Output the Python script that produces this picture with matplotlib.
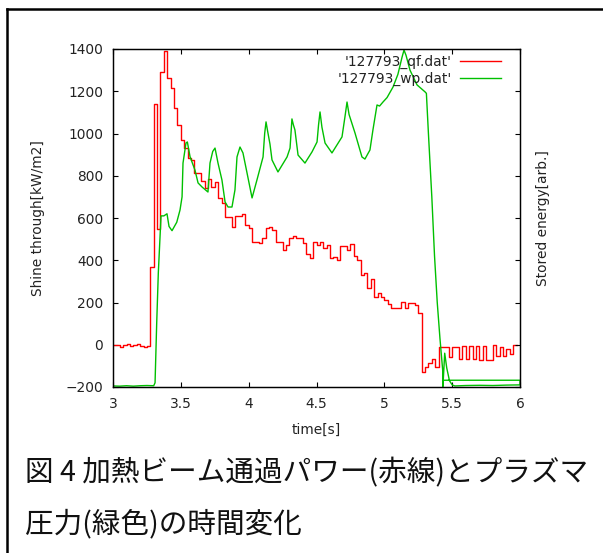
import matplotlib
matplotlib.use('Agg')
import matplotlib.pyplot as plt
import matplotlib.ticker as ticker
import numpy as np

# ---------------- data ----------------
# red: shine through, step data every 0.025 s from 3.0 s
qf_t0, qf_dt = 3.0, 0.025
qf_vals = [0, 0, -10, 0, 5, -5, 0, 5, -5, -10, -5,
           370, 1140, 550, 1290, 1390, 1265, 1215, 1120, 1040,
           970, 931, 884, 875, 813, 813, 775, 742, 785, 747,
           770, 695, 671, 605, 605, 557, 610, 610, 619, 567,
           553, 486, 486, 481, 505, 553, 557, 543, 486, 486,
           448, 472, 505, 515, 505, 505, 481, 429, 410, 486,
           470, 486, 460, 470, 410, 415, 400, 467, 467, 450,
           475, 420, 400, 330, 340, 268, 311, 226, 245, 226,
           210, 193, 174, 174, 174, 202, 174, 198, 198, 190,
           150, -130, -105, -86, -67, -105, -11, -11, -11, -58,
           -11, -11, -67, -8, -67, -5, -67, -5, -70, -5,
           -70, -70, -2, -55, -10, -52, -20, -45, 0]

# green: stored energy (trace as drawn, including the return segment)
wp_t = [3.00, 3.05, 3.10, 3.15, 3.20, 3.25, 3.30, 3.31, 3.322, 3.334,
        3.354, 3.375, 3.398, 3.413, 3.435, 3.47, 3.494, 3.509, 3.516, 3.538,
        3.548, 3.568, 3.604, 3.627, 3.656, 3.70, 3.715, 3.735, 3.752, 3.774,
        3.803, 3.826, 3.848, 3.877, 3.899, 3.914, 3.936, 3.958, 3.988, 4.025,
        4.061, 4.106, 4.118, 4.128, 4.14, 4.157, 4.172, 4.216, 4.283, 4.305,
        4.319, 4.33, 4.341, 4.364, 4.415, 4.467, 4.504, 4.515, 4.526, 4.54,
        4.563, 4.614, 4.688, 4.71, 4.725, 4.74, 4.784, 4.835, 4.857, 4.894,
        4.916, 4.946, 4.965, 4.99, 5.02, 5.064, 5.10, 5.13, 5.145, 5.16,
        5.189, 5.241, 5.30, 5.31, 5.325, 5.35, 5.37, 5.39, 5.41, 5.43,
        5.432, 5.445, 5.46, 5.48, 5.50, 5.52, 5.60, 5.70, 5.80, 5.90,
        6.00, 6.00, 5.432, 5.432]
wp_vals = [-195, -196, -194, -196, -194, -193, -194, -180, 100, 340,
           610, 610, 620, 560, 540, 580, 638, 700, 860, 955,
           960, 890, 827, 766, 747, 723, 860, 915, 931, 860,
           780, 676, 652, 652, 733, 889, 936, 908, 813, 695,
           780, 889, 1000, 1055, 1010, 950, 875, 818, 889, 931,
           1069, 1040, 1017, 898, 860, 913, 960, 1040, 1102, 1030,
           955, 908, 984, 1080, 1149, 1090, 1002, 889, 879, 922,
           1017, 1135, 1130, 1149, 1170, 1220, 1280, 1360, 1395, 1370,
           1300, 1230, 1197, 1190, 1000, 700, 420, 200, 30, -120,
           -195, -40, -110, -170, -190, -195, -193, -192, -193, -191,
           -190, -168, -168, -200]

legend_labels = ["'127793_qf.dat'", "'127793_wp.dat'"]
caption_lines = ['図 4 加熱ビーム通過パワー(赤線)とプラズマ', '圧力(緑色)の時間変化']

# ---------------- drawing ----------------
W, H = 603, 553
fig = plt.figure(figsize=(W / 100, H / 100), dpi=100)
ax = fig.add_axes([113 / W, 1 - 387 / H, (520 - 113) / W, (387 - 49) / H])

qf_t = qf_t0 + qf_dt * np.arange(len(qf_vals) + 1)
qf_y = list(qf_vals) + [qf_vals[-1]]
ax.step(qf_t, qf_y, where='post', color='#ff0000', lw=1.0, label=legend_labels[0])
ax.plot(wp_t, wp_vals, color='#00c000', lw=1.0, label=legend_labels[1])

ax.set_xlim(3, 6)
ax.set_ylim(-200, 1400)
ax.xaxis.set_major_locator(ticker.MultipleLocator(0.5))
ax.yaxis.set_major_locator(ticker.MultipleLocator(200))
ax.xaxis.set_major_formatter(ticker.FuncFormatter(lambda v, p: ('%g' % v)))
ax.tick_params(axis='both', direction='in', top=True, right=True, length=3.5,
               width=0.8, pad=7, labelsize=9.9, labelcolor='#222222')

for s in ax.spines.values():
    s.set_linewidth(1.0)
    s.set_color('#111111')

ax.set_xlabel('time[s]', fontsize=9.9, color='#222222')
ax.xaxis.set_label_coords(0.5, -0.105)
ax.set_ylabel('Shine through[kW/m2]', fontsize=9.9, color='#222222')
ax.yaxis.set_label_coords(-0.168, 0.5)

ax2 = ax.twinx()
ax2.set_ylim(-200, 1400)
ax2.yaxis.set_major_locator(ticker.MultipleLocator(200))
ax2.tick_params(axis='y', direction='in', length=3.5, width=0.8, labelright=False)
ax2.set_ylabel('Stored energy[arb.]', fontsize=9.9, color='#222222')
ax2.yaxis.set_label_coords(1.039, 0.5)

leg = ax.legend(loc='upper right', bbox_to_anchor=(0.978, 1.01), frameon=False,
                markerfirst=False, fontsize=9.9, handlelength=3.0, handletextpad=0.6,
                labelspacing=0.15, borderaxespad=0.3)
for t in leg.get_texts():
    t.set_color('#222222')

# outer frame of the figure box
fig.add_artist(plt.Line2D([6.5 / W, 1.0], [1 - 8.5 / H, 1 - 8.5 / H], color='black', lw=1.8,
                          transform=fig.transFigure))
fig.add_artist(plt.Line2D([6.5 / W, 6.5 / W], [0, 1 - 8.5 / H], color='black', lw=1.8,
                          transform=fig.transFigure))

fig.text(25 / W, 1 - 473 / H, caption_lines[0], fontsize=20.6, va='center', ha='left',
         family=['Noto Sans CJK JP', 'DejaVu Sans'], color='#111111')
fig.text(25 / W, 1 - 524 / H, caption_lines[1], fontsize=20.6, va='center', ha='left',
         family=['Noto Sans CJK JP', 'DejaVu Sans'], color='#111111')

fig.savefig('out.png', dpi=100)
